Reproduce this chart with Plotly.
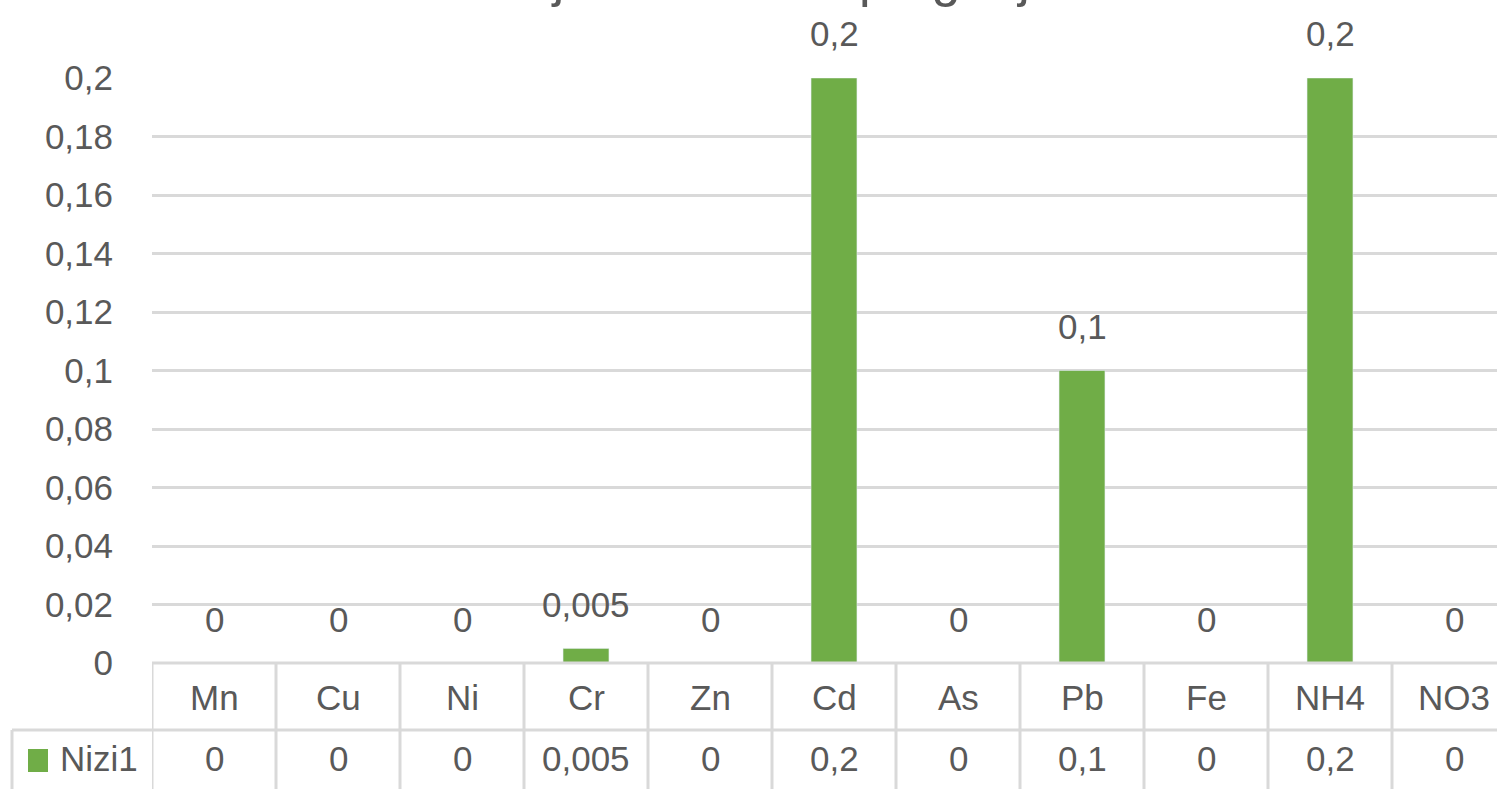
import plotly.graph_objects as go

categories = ["Mn", "Cu", "Ni", "Cr", "Zn", "Cd", "As", "Pb", "Fe", "NH4", "NO3"]
values = [0, 0, 0, 0.005, 0, 0.2, 0, 0.1, 0, 0.2, 0]
series_name = "Nizi1"
title_text = "Sadržaj štetnih tvari po gnojnici"
y_tickvals = [0, 0.02, 0.04, 0.06, 0.08, 0.1, 0.12, 0.14, 0.16, 0.18, 0.2]
y_ticktext = ["0", "0,02", "0,04", "0,06", "0,08", "0,1", "0,12", "0,14", "0,16", "0,18", "0,2"]

W, H = 1497, 789
GREEN = "#70ad47"
TXT = "#595959"
GRID = "#d9d9d9"
FONT = "Liberation Sans"
FS = 35


def fmt(v):
    s = ("%g" % v)
    return s.replace(".", ",")


def py(px):  # pixel y -> paper y
    return 1 - px / H


def pxx(px):  # pixel x -> paper x
    return px / W


plot_left = 152
plot_top = 78
plot_bottom = 663
row1_c = 697
row2_top = 730
row2_c = 758

fig = go.Figure()
fig.add_trace(go.Bar(
    x=list(range(len(categories))), y=values, marker_color=GREEN,
    name=series_name, showlegend=False, hoverinfo="skip",
))

n = len(categories)
col_w = 124
x_max = -0.5 + (W - plot_left) / col_w

annotations = []
# data labels above bars
for i, v in enumerate(values):
    annotations.append(dict(x=i, y=v, xref="x", yref="y", text=fmt(v), showarrow=False,
                            yanchor="middle", yshift=44, font=dict(size=FS, color=TXT, family=FONT)))
# table: category row and value row
for i, (c, v) in enumerate(zip(categories, values)):
    annotations.append(dict(x=i, y=py(row1_c), xref="x", yref="paper", text=c, showarrow=False,
                            yanchor="middle", font=dict(size=FS, color=TXT, family=FONT)))
    annotations.append(dict(x=i, y=py(row2_c), xref="x", yref="paper", text=fmt(v), showarrow=False,
                            yanchor="middle", font=dict(size=FS, color=TXT, family=FONT)))
# legend key text
annotations.append(dict(x=pxx(58), y=py(row2_c), xref="paper", yref="paper", text=series_name,
                        showarrow=False, xanchor="left", yanchor="middle",
                        font=dict(size=FS, color=TXT, family=FONT)))
# title (cropped at top)
annotations.append(dict(x=pxx(748), y=py(9), xref="paper", yref="paper", text=title_text,
                        showarrow=False, xanchor="center", yanchor="bottom",
                        font=dict(size=52, color=TXT, family=FONT)))

shapes = []
line = dict(color=GRID, width=3)
# table top line (axis)
shapes.append(dict(type="line", xref="x", yref="paper", x0=-0.5, x1=x_max + 1,
                   y0=py(plot_bottom), y1=py(plot_bottom), line=line))
# middle line
shapes.append(dict(type="line", xref="paper", yref="paper", x0=pxx(12), x1=1.01,
                   y0=py(row2_top), y1=py(row2_top), line=line))
# vertical column lines
for k in range(n + 1):
    shapes.append(dict(type="line", xref="x", yref="paper", x0=k - 0.5, x1=k - 0.5,
                       y0=py(plot_bottom), y1=-0.05, line=line))
# legend cell left border
shapes.append(dict(type="line", xref="paper", yref="paper", x0=pxx(12), x1=pxx(12),
                   y0=py(row2_top), y1=-0.05, line=line))
# legend key square
shapes.append(dict(type="rect", xref="paper", yref="paper", x0=pxx(28), x1=pxx(48),
                   y0=py(772), y1=py(749), fillcolor=GREEN, line=dict(width=0)))

fig.update_layout(
    width=W, height=H,
    margin=dict(l=0, r=0, t=0, b=0, pad=0, autoexpand=False),
    paper_bgcolor="white", plot_bgcolor="white",
    bargap=0.63,
    showlegend=False,
    annotations=annotations,
    shapes=shapes,
    font=dict(family=FONT, size=FS, color=TXT),
    xaxis=dict(domain=[pxx(plot_left), 1], range=[-0.5, x_max], showticklabels=False,
               showgrid=False, zeroline=False, showline=False, fixedrange=True,
               automargin=False),
    yaxis=dict(domain=[py(plot_bottom), py(plot_top)], range=[0, 0.2], tickvals=y_tickvals,
               ticktext=y_ticktext, showgrid=True, gridcolor=GRID, gridwidth=3,
               zeroline=False, showline=False, ticks="", ticklabelstandoff=38,
               tickfont=dict(size=FS, color=TXT, family=FONT), fixedrange=True,
               automargin=False),
)

fig.write_html("out.html", config={"displayModeBar": False})
